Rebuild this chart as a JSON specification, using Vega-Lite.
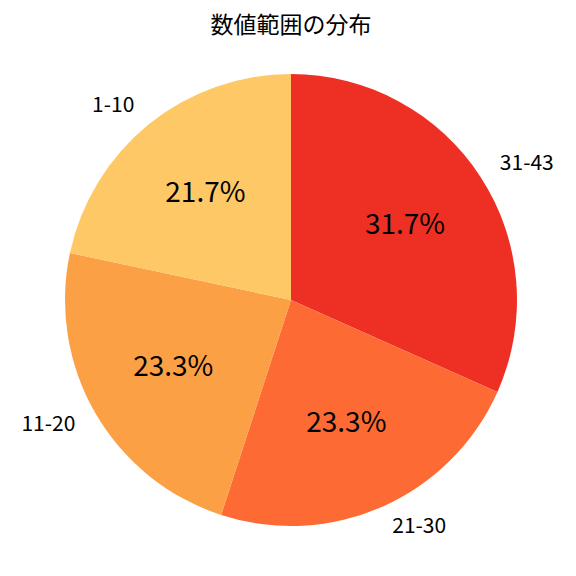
{
  "$schema": "https://vega.github.io/schema/vega-lite/v6.json",
  "autosize": "none",
  "width": 576,
  "height": 500,
  "padding": {"top": 50, "left": 3, "right": 0, "bottom": 0},
  "background": "white",
  "title": {
    "text": "数値範囲の分布",
    "font": "Noto Sans CJK JP",
    "fontSize": 23,
    "fontWeight": "normal",
    "color": "black",
    "anchor": "middle",
    "offset": 12
  },
  "config": {"view": {"stroke": null}},
  "data": {
    "values": [
      {"range": "31-43", "count": 19},
      {"range": "21-30", "count": 14},
      {"range": "11-20", "count": 14},
      {"range": "1-10", "count": 13}
    ]
  },
  "transform": [
    {"joinaggregate": [{"op": "sum", "field": "count", "as": "total"}]},
    {"calculate": "datum.count / datum.total", "as": "share"},
    {"stack": "count", "groupby": [], "sort": [{"field": "range", "order": "descending"}], "as": ["start", "end"]},
    {"calculate": "(datum.start + datum.end) / 2", "as": "mid"}
  ],
  "layer": [
    {
      "mark": {"type": "arc", "outerRadius": 226},
      "encoding": {
        "theta": {"field": "start", "type": "quantitative", "scale": {"domain": [0, 60], "nice": false}},
        "theta2": {"field": "end"},
        "color": {
          "field": "range",
          "type": "nominal",
          "scale": {
            "domain": ["31-43", "21-30", "11-20", "1-10"],
            "range": ["#EE3024", "#FD6A33", "#FCA046", "#FEC866"]
          },
          "legend": null
        }
      }
    },
    {
      "mark": {"type": "text", "radius": 136, "font": "Noto Sans CJK JP", "fontSize": 28, "color": "black", "baseline": "middle"},
      "encoding": {
        "theta": {"field": "mid", "type": "quantitative"},
        "text": {"field": "share", "type": "quantitative", "format": ".1%"}
      }
    },
    {
      "transform": [{"filter": {"field": "range", "oneOf": ["31-43", "21-30"]}}],
      "mark": {"type": "text", "radius": 249, "align": "left", "font": "Noto Sans CJK JP", "fontSize": 21, "color": "black", "baseline": "middle"},
      "encoding": {
        "theta": {"field": "mid", "type": "quantitative"},
        "text": {"field": "range", "type": "nominal"}
      }
    },
    {
      "transform": [{"filter": {"field": "range", "oneOf": ["11-20", "1-10"]}}],
      "mark": {"type": "text", "radius": 249, "align": "right", "font": "Noto Sans CJK JP", "fontSize": 21, "color": "black", "baseline": "middle"},
      "encoding": {
        "theta": {"field": "mid", "type": "quantitative"},
        "text": {"field": "range", "type": "nominal"}
      }
    }
  ]
}
